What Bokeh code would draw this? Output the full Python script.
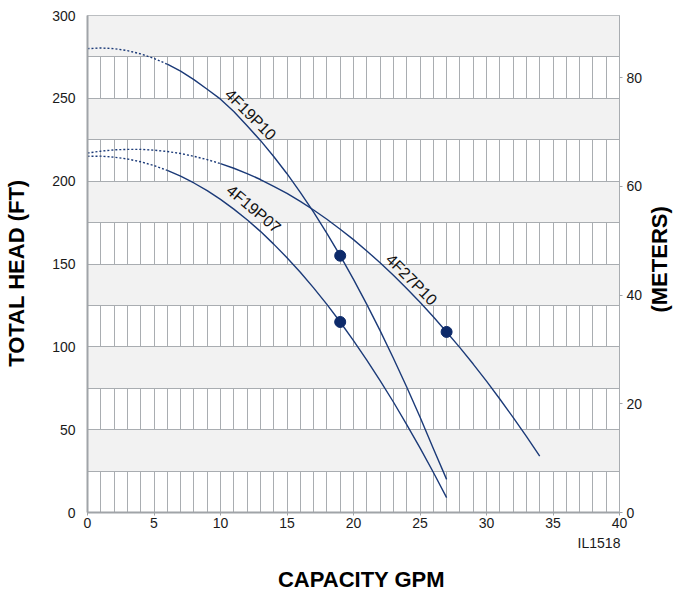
import math
from bokeh.plotting import figure
from bokeh.models import Range1d, LinearAxis, FixedTicker, Label
from bokeh.embed import file_html
from bokeh.resources import INLINE

# ---- data ----
gpm_4F19P10 = list(range(0, 28))
head_4F19P10 = [280, 280.4, 280, 278.8, 276.8, 274.1, 270.6, 266.4, 261.3, 255.5,
                249.5, 242, 233.4, 224.6, 214.9, 204.5, 193.2, 181.3, 168.5, 155,
                140.7, 125.6, 109.8, 93.1, 75.8, 57.6, 38.6, 20]
gpm_4F19P07 = list(range(0, 28))
head_4F19P07 = [215, 215.1, 214.5, 213.4, 211.7, 209.4, 206.5, 203, 198.9, 194.3,
                189, 183.1, 176.7, 169.7, 162, 153.8, 145, 135.6, 125.6, 115,
                103.8, 92, 79.6, 66.7, 53.1, 39, 24.3, 9]
gpm_4F27P10 = list(range(0, 35))
head_4F27P10 = [217, 218.1, 218.9, 219.2, 219.2, 218.7, 217.9, 216.7, 215, 213,
                210.6, 207.8, 204.6, 201, 196.9, 192.6, 187.8, 182.6, 177, 171,
                164.7, 157.9, 150.7, 143.2, 135.2, 126.9, 118.2, 109, 99.5, 89.6,
                79.3, 68.5, 57.4, 45.9, 34]
# end of the dotted (out-of-range) part of each curve, GPM
dotted_end = {"4F19P10": 6, "4F19P07": 6, "4F27P10": 10}
# rated points
point_gpm = [19, 19, 27]
point_head = [155, 115, 109]
# curve labels
label_names = ["4F19P10", "4F19P07", "4F27P10"]
label_gpm = [12.26, 12.5, 24.36]
label_head = [240.2, 183.3, 140.6]
label_angle = [-45, -40, -45]

x_ticks = [0, 5, 10, 15, 20, 25, 30, 35, 40]
y_ticks = [0, 50, 100, 150, 200, 250, 300]
m_ticks = [0, 20, 40, 60, 80]
FT_TO_M = 0.3048

FONT = "Liberation Sans"
NAVY = "#1b3a78"
DOT = "#0d2a6a"
GRID = "#a9adb1"
AXIS = "#a0a4a8"

p = figure(width=688, height=594, output_backend="svg", toolbar_location=None,
           x_range=Range1d(0, 40), y_range=Range1d(0, 300),
           min_border_left=87, min_border_right=69, min_border_top=15, min_border_bottom=82)
p.outline_line_color = GRID
p.outline_line_width = 1
p.background_fill_color = "white"

p.extra_y_ranges = {"m": Range1d(0, 300 * FT_TO_M)}

# grids
p.xgrid.ticker = FixedTicker(ticks=list(range(0, 41)))
p.ygrid.ticker = FixedTicker(ticks=list(range(0, 301, 25)))
for g in (p.xgrid, p.ygrid):
    g.grid_line_color = GRID
    g.grid_line_width = 1
p.ygrid.band_fill_color = "#f2f2f2"
p.ygrid.band_fill_alpha = 1.0

# axes
xa = p.xaxis[0]
xa.ticker = FixedTicker(ticks=x_ticks)
xa.major_tick_out = 3
xa.major_tick_in = 0
xa.minor_tick_out = 0
xa.major_label_standoff = 2
ya = p.yaxis[0]
ya.ticker = FixedTicker(ticks=y_ticks)
ya.major_tick_out = 0
ya.major_tick_in = 0
ya.minor_tick_out = 0
ya.major_label_standoff = 12

ra = LinearAxis(y_range_name="m", ticker=FixedTicker(ticks=m_ticks))
ra.major_tick_out = 3
ra.major_tick_in = 0
ra.minor_tick_out = 0
ra.major_label_standoff = 4
p.add_layout(ra, "right")

for ax in (xa, ya, ra):
    ax.axis_line_color = AXIS
    ax.axis_line_width = 2
    ax.major_tick_line_color = AXIS
    ax.major_label_text_font = FONT
    ax.major_label_text_font_size = "14px"
    ax.major_label_text_color = "#1a1a1a"
ra.axis_line_width = 1
ra.axis_line_color = GRID


def text_axis(text, at, standoff, size, bold=True, orientation="horizontal"):
    """An axis whose only tick label is a title text, placed at a given position."""
    a = LinearAxis(ticker=FixedTicker(ticks=[at]))
    a.major_label_overrides = {at: text}
    a.axis_line_color = None
    a.major_tick_out = 0
    a.major_tick_in = 0
    a.minor_tick_out = 0
    a.minor_tick_in = 0
    a.major_label_standoff = standoff
    a.major_label_orientation = orientation
    a.major_label_text_font = FONT
    a.major_label_text_font_size = size
    a.major_label_text_font_style = "bold" if bold else "normal"
    a.major_label_text_color = "black" if bold else "#1a1a1a"
    return a


# titles (positions in the chart's own units)
p.add_layout(text_axis("TOTAL HEAD (FT)", 144.5, 20, "22px", orientation="vertical"), "left")
p.add_layout(text_axis("(METERS)", 120.7, 14, "22px", orientation=math.pi / 2), "right")
p.add_layout(text_axis("IL1518", 38.46, 4, "14px", bold=False), "below")
p.add_layout(text_axis("CAPACITY GPM", 20.6, 13, "22px"), "below")

# curves
curves = [("4F19P10", gpm_4F19P10, head_4F19P10),
          ("4F19P07", gpm_4F19P07, head_4F19P07),
          ("4F27P10", gpm_4F27P10, head_4F27P10)]
for name, xs, ys in curves:
    cut = dotted_end[name]
    dx = [x for x in xs if x <= cut]
    dy = ys[:len(dx)]
    sx = xs[len(dx) - 1:]
    sy = ys[len(dx) - 1:]
    p.line(dx, dy, line_color=NAVY, line_width=1.4, line_dash="2 2")
    p.line(sx, sy, line_color=NAVY, line_width=1.4)

p.scatter(point_gpm, point_head, size=11, color=DOT)

for name, gx, gy, ang in zip(label_names, label_gpm, label_head, label_angle):
    p.add_layout(Label(x=gx, y=gy, text=name, angle=math.radians(ang),
                       text_align="center", text_baseline="middle",
                       text_font=FONT, text_font_size="16px", text_color="#111111"))

open("out.html", "w").write(file_html(p, INLINE))
